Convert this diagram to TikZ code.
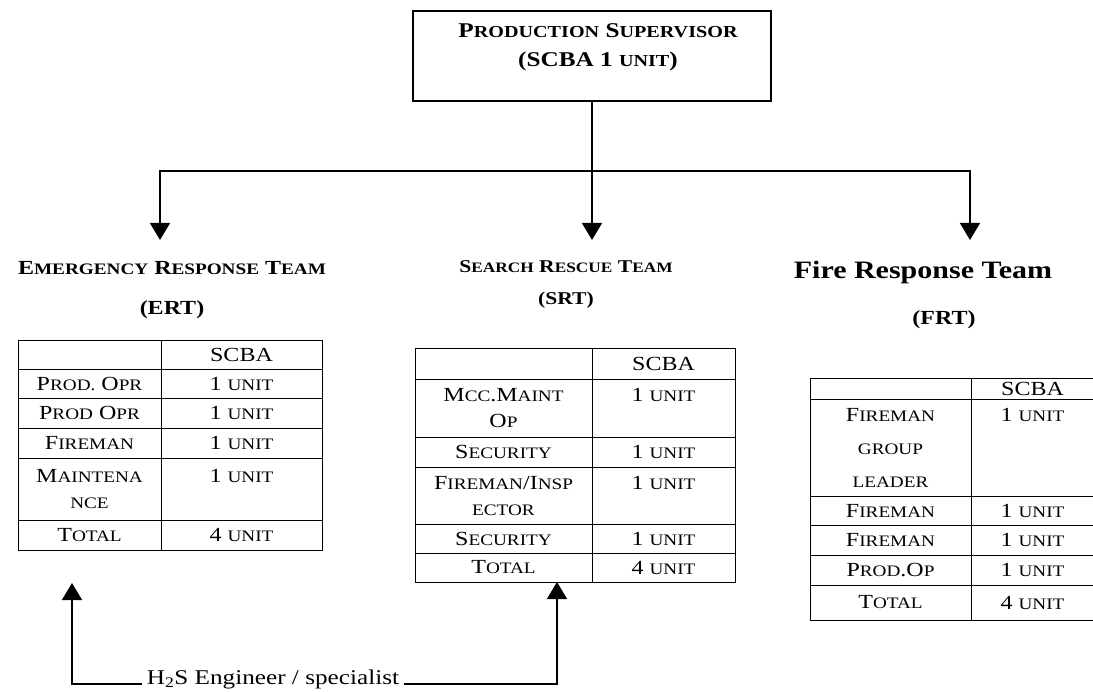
\documentclass[tikz,border=0pt]{standalone}
\usepackage{fontspec}
\setmainfont{Liberation Serif}[FakeStretch=1.2]
\usetikzlibrary{arrows.meta}
\newcommand{\sk}[1]{\scalebox{0.8}{#1}}

\begin{document}
\begin{tikzpicture}[x=1pt, y=-1pt, line width=1.4pt,
    arr/.style={-{Triangle[width=20pt,length=17pt]}},
    title/.style={align=center, font=\bfseries\fontsize{20}{40}\selectfont},
    cell/.style 2 args={draw, line width=0.9pt, outer sep=0pt, inner sep=0pt,
      anchor=north west, align=center, minimum width=#1pt, minimum height=#2pt,
      font=\fontsize{20}{26}\selectfont}]
        \useasboundingbox (0,0) rectangle (1093,692);

        % Supervisor
        \node[draw, line width=1.5pt, minimum width=358pt, minimum height=90pt] (sup) at (592,56) {};
        \node[align=center, font=\bfseries\fontsize{21}{29}\selectfont] (suptxt) at (598,47)
            {P\sk{RODUCTION} S\sk{UPERVISOR}\\(SCBA 1 \sk{UNIT})};

        % Split to the teams
        \coordinate (split) at (592,171);
        \coordinate (ertin) at (160,240);
        \coordinate (srtin) at (592,240);
        \coordinate (frtin) at (970,240);
        \draw (sup.south) -- (split);
        \draw[arr] (split) -| (ertin);
        \draw[arr] (split) -- (srtin);
        \draw[arr] (split) -| (frtin);

        % Team titles
        \node[title] (ert) at (172,290) {E\sk{MERGENCY} R\sk{ESPONSE} T\sk{EAM}\\(ERT)};
        \node[title, font=\bfseries\fontsize{18}{32}\selectfont] (srt) at (566,284) {S\sk{EARCH} R\sk{ESCUE} T\sk{EAM}\\(SRT)};
        \node[font=\bfseries\fontsize{25}{30}\selectfont] (frt) at (923,272) {Fire Response Team};
        \node[font=\bfseries\fontsize{20}{24}\selectfont] (frtab) at (944,320) {(FRT)};

        % ERT table
        \node[cell={143}{29}] (e00) at (18,340) {};
        \node[cell={161}{29}] (e01) at (e00.north east) {SCBA};
        \node[cell={143}{29}] (e10) at (e00.south west) {P\sk{ROD.} O\sk{PR}};
        \node[cell={161}{29}] (e11) at (e10.north east) {1 \sk{UNIT}};
        \node[cell={143}{30}] (e20) at (e10.south west) {P\sk{ROD} O\sk{PR}};
        \node[cell={161}{30}] (e21) at (e20.north east) {1 \sk{UNIT}};
        \node[cell={143}{30}] (e30) at (e20.south west) {F\sk{IREMAN}};
        \node[cell={161}{30}] (e31) at (e30.north east) {1 \sk{UNIT}};
        \node[cell={143}{62}] (e40) at (e30.south west) {M\sk{AINTENA}\\ \sk{NCE}};
        \node[cell={161}{62}] (e41) at (e40.north east) {1 \sk{UNIT}\\ \mbox{}};
        \node[cell={143}{30}] (e50) at (e40.south west) {T\sk{OTAL}};
        \node[cell={161}{30}] (e51) at (e50.north east) {4 \sk{UNIT}};

        % SRT table
        \node[cell={177}{31}] (s00) at (415,348) {};
        \node[cell={143}{31}] (s01) at (s00.north east) {SCBA};
        \node[cell={177}{58}] (s10) at (s00.south west) {M\sk{CC}.M\sk{AINT}\\ O\sk{P}};
        \node[cell={143}{58}] (s11) at (s10.north east) {1 \sk{UNIT}\\ \mbox{}};
        \node[cell={177}{30}] (s20) at (s10.south west) {S\sk{ECURITY}};
        \node[cell={143}{30}] (s21) at (s20.north east) {1 \sk{UNIT}};
        \node[cell={177}{57}] (s30) at (s20.south west) {F\sk{IREMAN}/I\sk{NSP}\\ \sk{ECTOR}};
        \node[cell={143}{57}] (s31) at (s30.north east) {1 \sk{UNIT}\\ \mbox{}};
        \node[cell={177}{29}] (s40) at (s30.south west) {S\sk{ECURITY}};
        \node[cell={143}{29}] (s41) at (s40.north east) {1 \sk{UNIT}};
        \node[cell={177}{29}] (s50) at (s40.south west) {T\sk{OTAL}};
        \node[cell={143}{29}] (s51) at (s50.north east) {4 \sk{UNIT}};

        % FRT table
        \node[cell={161}{21}] (f00) at (810,378) {};
        \node[cell={123}{21}] (f01) at (f00.north east) {SCBA};
        \node[cell={161}{97}, font=\fontsize{20}{33}\selectfont] (f10) at (f00.south west) {F\sk{IREMAN}\\ \sk{GROUP}\\ \sk{LEADER}};
        \node[cell={123}{97}, font=\fontsize{20}{33}\selectfont] (f11) at (f10.north east) {1 \sk{UNIT}\\ \mbox{}\\ \mbox{}};
        \node[cell={161}{29}] (f20) at (f10.south west) {F\sk{IREMAN}};
        \node[cell={123}{29}] (f21) at (f20.north east) {1 \sk{UNIT}};
        \node[cell={161}{30}] (f30) at (f20.south west) {F\sk{IREMAN}};
        \node[cell={123}{30}] (f31) at (f30.north east) {1 \sk{UNIT}};
        \node[cell={161}{30}] (f40) at (f30.south west) {P\sk{ROD}.O\sk{P}};
        \node[cell={123}{30}] (f41) at (f40.north east) {1 \sk{UNIT}};
        \node[cell={161}{35}] (f50) at (f40.south west) {T\sk{OTAL}};
        \node[cell={123}{35}] (f51) at (f50.north east) {4 \sk{UNIT}};

        % H2S engineer
        \node[anchor=base, inner xsep=4pt, font=\fontsize{21}{24}\selectfont] (h2s) at (273,684) {H\textsubscript{2}S Engineer / specialist};
        \coordinate (ertup) at (72,583);
        \coordinate (srtup) at (557,582);
        \draw[arr] (h2s.base west) -| (ertup);
        \draw[arr] (h2s.base east) -| (srtup);
    \end{tikzpicture}
\end{document}
